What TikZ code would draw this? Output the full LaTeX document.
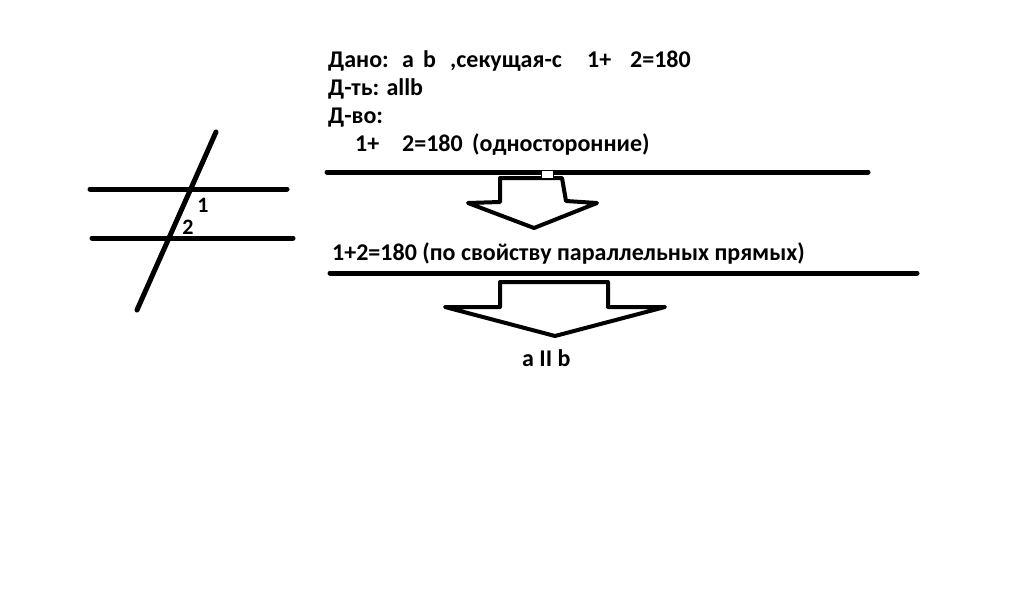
\documentclass[tikz,border=0pt]{standalone}
\usepackage{fontspec}
\setmainfont{Carlito}
\usepackage{tikz}

\begin{document}
\begin{tikzpicture}[x = 1pt, y = -1pt,
  txt/.style = {anchor = base west, inner sep = 0pt, font = \fontsize{24}{28}\selectfont\bfseries},
  num/.style = {inner sep = 0pt, font = \fontsize{22}{26}\selectfont\bfseries},
  thickline/.style = {line width = 5pt, line cap = round},
  arrowline/.style = {line width = 4pt, line join = round}]
\useasboundingbox[fill = white] (0, 0) rectangle (1014, 595);
%\draw[very thin, color = gray](0, 0) grid[step = 50] (1014, 595);
% the figure
\draw [thickline] (90, 189) -- (287, 189);
\draw [thickline] (92, 238) -- (293, 238);
\draw [thickline] (216, 132) -- (137, 310);
\node (one) at (203, 205) [num] {1};
\node (two) at (188, 227) [num] {2};
% given
\node (given) at (328, 67) [txt] {Дано:};
\node (givena) at (402, 67) [txt] {a};
\node (givenb) at (423, 67) [txt] {b};
\node (secant) at (450, 67) [txt] {,секущая-с};
\node (sumone) at (587, 67) [txt] {1+};
\node (sumtwo) at (630, 67) [txt] {2=180};
\node (prove) at (328, 95) [txt] {Д-ть: allb};
\node (proof) at (328, 123) [txt] {Д-во:};
\node (stepone) at (355, 151) [txt] {1+};
\node (steptwo) at (402, 151) [txt] {2=180};
\node (onesided) at (472, 151) [txt] {(односторонние)};
\draw [thickline] (327, 172) -- (868, 172);
\draw [arrowline] (500, 178) -- (500, 202) -- (468, 203) -- (534, 228)
  -- (597, 203) -- (566, 201) -- (562, 178) -- cycle;
\fill [white] (541, 171) rectangle (553, 178);
\draw [line width = 1pt] (541, 171) -- (541, 179) -- (553, 179) -- (553, 171);
\node (property) at (332, 260) [txt] {1+2=180 (по свойству параллельных прямых)};
\draw [thickline] (330, 273) -- (917, 273);
\draw [arrowline] (500, 282) -- (500, 307) -- (445, 307) -- (555, 336)
  -- (665, 307) -- (608, 307) -- (608, 282) -- cycle;
\node (result) at (522, 366) [txt] {a II b};
\end{tikzpicture}
\end{document}
